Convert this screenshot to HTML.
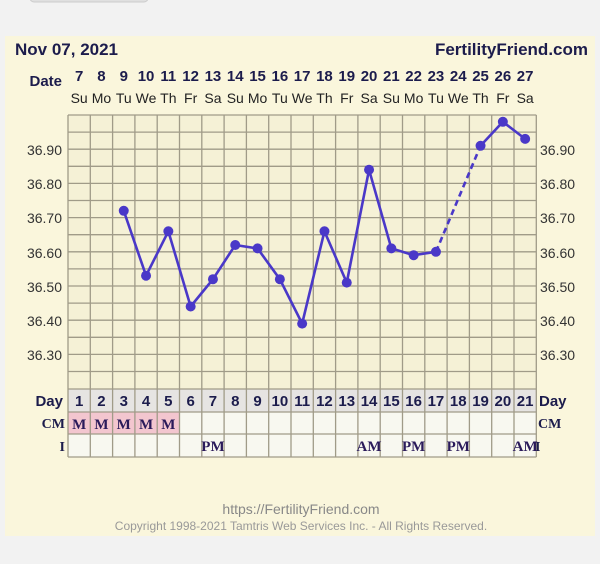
<!DOCTYPE html>
<html><head><style>
body{margin:0;background:#f2f2f2;width:600px;height:564px;overflow:hidden;font-family:"Liberation Sans",sans-serif}
</style></head><body>
<svg width="600" height="564" xmlns="http://www.w3.org/2000/svg" style="position:absolute;left:0;top:0">
<rect x="30" y="-6" width="118" height="8" rx="4" fill="#e0e0e0" stroke="#ccc"/>
<rect x="5" y="36" width="590" height="500" fill="#faf6dc"/>
<text x="15" y="55" font-size="17" font-weight="bold" fill="#1c1c4c">Nov 07, 2021</text>
<text x="588" y="55" font-size="17" font-weight="bold" fill="#1c1c4c" text-anchor="end">FertilityFriend.com</text>
<text x="62" y="86" font-size="15" font-weight="bold" fill="#1c1c4c" text-anchor="end">Date</text>
<g font-size="15" font-weight="bold" fill="#1c1c4c" text-anchor="middle">
<text x="79.15" y="81">7</text><text x="101.45" y="81">8</text><text x="123.75" y="81">9</text><text x="146.05" y="81">10</text><text x="168.35" y="81">11</text><text x="190.65" y="81">12</text><text x="212.95" y="81">13</text><text x="235.25" y="81">14</text><text x="257.55" y="81">15</text><text x="279.85" y="81">16</text><text x="302.15" y="81">17</text><text x="324.45" y="81">18</text><text x="346.75" y="81">19</text><text x="369.05" y="81">20</text><text x="391.35" y="81">21</text><text x="413.65" y="81">22</text><text x="435.95" y="81">23</text><text x="458.25" y="81">24</text><text x="480.55" y="81">25</text><text x="502.85" y="81">26</text><text x="525.15" y="81">27</text>
</g>
<g font-size="14" fill="#222" text-anchor="middle">
<text x="79.15" y="103">Su</text><text x="101.45" y="103">Mo</text><text x="123.75" y="103">Tu</text><text x="146.05" y="103">We</text><text x="168.35" y="103">Th</text><text x="190.65" y="103">Fr</text><text x="212.95" y="103">Sa</text><text x="235.25" y="103">Su</text><text x="257.55" y="103">Mo</text><text x="279.85" y="103">Tu</text><text x="302.15" y="103">We</text><text x="324.45" y="103">Th</text><text x="346.75" y="103">Fr</text><text x="369.05" y="103">Sa</text><text x="391.35" y="103">Su</text><text x="413.65" y="103">Mo</text><text x="435.95" y="103">Tu</text><text x="458.25" y="103">We</text><text x="480.55" y="103">Th</text><text x="502.85" y="103">Fr</text><text x="525.15" y="103">Sa</text>
</g>
<!-- grid -->
<rect x="68" y="115" width="468.3" height="274" fill="#f5f1d6"/>
<rect x="68" y="389" width="468.3" height="23" fill="#e6e4e2"/>
<rect x="68" y="412" width="468.3" height="45" fill="#f8f8f0"/>
<rect x="68" y="412" width="111.5" height="22" fill="#f3c6cf"/>
<g stroke="#a09b88" stroke-width="1.3">
<path d="M68 115H536.3M68 132.1H536.3M68 149.2H536.3M68 166.3H536.3M68 183.4H536.3M68 200.5H536.3M68 217.6H536.3M68 234.7H536.3M68 251.8H536.3M68 268.9H536.3M68 286H536.3M68 303.1H536.3M68 320.2H536.3M68 337.3H536.3M68 354.4H536.3M68 371.5H536.3M68 389H536.3M68 412H536.3M68 434H536.3M68 457H536.3"/>
<path d="M68 115V457M90.3 115V457M112.6 115V457M134.9 115V457M157.2 115V457M179.5 115V457M201.8 115V457M224.1 115V457M246.4 115V457M268.7 115V457M291 115V457M313.3 115V457M335.6 115V457M357.9 115V457M380.2 115V457M402.5 115V457M424.8 115V457M447.1 115V457M469.4 115V457M491.7 115V457M514 115V457M536.3 115V457"/>
</g>
<g font-size="14" fill="#333">
<g text-anchor="end"><text x="62" y="155">36.90</text><text x="62" y="189">36.80</text><text x="62" y="223">36.70</text><text x="62" y="258">36.60</text><text x="62" y="292">36.50</text><text x="62" y="326">36.40</text><text x="62" y="360">36.30</text></g>
<text x="540" y="155">36.90</text><text x="540" y="189">36.80</text><text x="540" y="223">36.70</text><text x="540" y="258">36.60</text><text x="540" y="292">36.50</text><text x="540" y="326">36.40</text><text x="540" y="360">36.30</text>
</g>
<g font-size="15" font-weight="bold" fill="#1c1c4c">
<text x="63" y="406" text-anchor="end">Day</text><text x="539" y="406">Day</text>
</g>
<g font-size="14" font-weight="bold" fill="#1c1c4c" font-family="Liberation Serif,serif">
<text x="65" y="428" text-anchor="end">CM</text><text x="538" y="428">CM</text>
<text x="65" y="451" text-anchor="end">I</text><text x="535" y="451">I</text>
</g>
<g font-size="15" font-weight="bold" fill="#1c1c4c" text-anchor="middle">
<text x="79.15" y="406">1</text><text x="101.45" y="406">2</text><text x="123.75" y="406">3</text><text x="146.05" y="406">4</text><text x="168.35" y="406">5</text><text x="190.65" y="406">6</text><text x="212.95" y="406">7</text><text x="235.25" y="406">8</text><text x="257.55" y="406">9</text><text x="279.85" y="406">10</text><text x="302.15" y="406">11</text><text x="324.45" y="406">12</text><text x="346.75" y="406">13</text><text x="369.05" y="406">14</text><text x="391.35" y="406">15</text><text x="413.65" y="406">16</text><text x="435.95" y="406">17</text><text x="458.25" y="406">18</text><text x="480.55" y="406">19</text><text x="502.85" y="406">20</text><text x="525.15" y="406">21</text>
</g>
<g font-size="15" font-weight="bold" fill="#2a1a5a" text-anchor="middle" font-family="Liberation Serif,serif">
<text x="79.15" y="429">M</text><text x="101.45" y="429">M</text><text x="123.75" y="429">M</text><text x="146.05" y="429">M</text><text x="168.35" y="429">M</text>
<text x="212.95" y="451">PM</text><text x="369.05" y="451">AM</text><text x="413.65" y="451">PM</text><text x="458.25" y="451">PM</text><text x="525.15" y="451">AM</text>
</g>
<!-- series -->
<polyline fill="none" stroke="#4a38c8" stroke-width="2.6" points="123.75,210.8 146.05,275.7 168.35,231.3 190.65,306.5 212.95,279.2 235.25,245 257.55,248.4 279.85,279.2 302.15,323.6 324.45,231.3 346.75,282.6 369.05,169.7 391.35,248.4 413.65,255.2 435.95,251.8"/>
<line x1="435.95" y1="251.8" x2="480.55" y2="145.8" stroke="#4a38c8" stroke-width="2.6" stroke-dasharray="6,4"/>
<polyline fill="none" stroke="#4a38c8" stroke-width="2.6" points="480.55,145.8 502.85,121.8 525.15,138.9"/>
<g fill="#4a38c8">
<circle cx="123.75" cy="210.8" r="5"/><circle cx="146.05" cy="275.7" r="5"/><circle cx="168.35" cy="231.3" r="5"/><circle cx="190.65" cy="306.5" r="5"/><circle cx="212.95" cy="279.2" r="5"/><circle cx="235.25" cy="245" r="5"/><circle cx="257.55" cy="248.4" r="5"/><circle cx="279.85" cy="279.2" r="5"/><circle cx="302.15" cy="323.6" r="5"/><circle cx="324.45" cy="231.3" r="5"/><circle cx="346.75" cy="282.6" r="5"/><circle cx="369.05" cy="169.7" r="5"/><circle cx="391.35" cy="248.4" r="5"/><circle cx="413.65" cy="255.2" r="5"/><circle cx="435.95" cy="251.8" r="5"/><circle cx="480.55" cy="145.8" r="5"/><circle cx="502.85" cy="121.8" r="5"/><circle cx="525.15" cy="138.9" r="5"/>
</g>
<text x="301" y="514" font-size="14" fill="#888" text-anchor="middle">https://FertilityFriend.com</text>
<text x="301" y="530" font-size="12" fill="#999" text-anchor="middle">Copyright 1998-2021 Tamtris Web Services Inc. - All Rights Reserved.</text>
</svg>
</body></html>
